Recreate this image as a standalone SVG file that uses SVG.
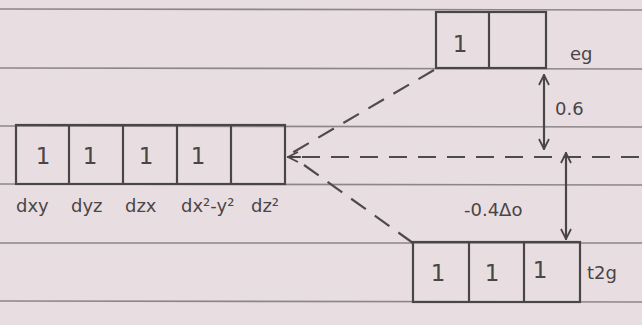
<svg xmlns="http://www.w3.org/2000/svg" width="642" height="325" viewBox="0 0 642 325">
<defs>
<style>
.ink{stroke:#4a4547;stroke-width:2.2;fill:none;stroke-linecap:round}
.box{stroke:#4a4547;stroke-width:2.2;fill:none}
.rule{stroke:#8d8689;stroke-width:1.6}
.dash{stroke:#4f4a4c;stroke-width:2.2;fill:none;stroke-dasharray:18 11}
.spin{font-family:"DejaVu Sans",sans-serif;font-size:23px;fill:#4a4547;text-anchor:middle}
.lbl{font-family:"DejaVu Sans",sans-serif;font-size:18px;fill:#4a4547}
</style>
<marker id="ah" viewBox="0 0 12 12" refX="11" refY="6" markerWidth="12" markerHeight="12" markerUnits="userSpaceOnUse" orient="auto-start-reverse">
<path d="M1 1 L11 6 L1 11" fill="none" stroke="#4a4547" stroke-width="1.8"/>
</marker>
</defs>
<rect width="642" height="325" fill="#e8dee1"/>
<g id="paper">
<line class="rule" x1="0" y1="9" x2="642" y2="10"/>
<line class="rule" x1="0" y1="68" x2="642" y2="69"/>
<line class="rule" x1="0" y1="126" x2="642" y2="127"/>
<line class="rule" x1="0" y1="184" x2="642" y2="185"/>
<line class="rule" x1="0" y1="243" x2="642" y2="243"/>
<line class="rule" x1="0" y1="301" x2="642" y2="302"/>
</g>
<g id="connectors">
<line class="dash" x1="434" y1="70" x2="292" y2="153"/>
<line class="dash" x1="302" y1="157" x2="640" y2="157"/>
<line x1="288" y1="157" x2="300" y2="157" class="ink" marker-start="url(#ah)"/>
<line class="dash" x1="304" y1="165" x2="413" y2="243"/>
<line class="ink" x1="544" y1="75" x2="544" y2="149" marker-start="url(#ah)" marker-end="url(#ah)"/>
<line class="ink" x1="566" y1="153" x2="566" y2="239" marker-start="url(#ah)" marker-end="url(#ah)"/>
</g>
<g id="d-orbitals">
<rect class="box" x="16" y="125" width="269" height="59"/>
<line class="box" x1="69" y1="125" x2="69" y2="184"/>
<line class="box" x1="123" y1="125" x2="123" y2="184"/>
<line class="box" x1="177" y1="125" x2="177" y2="184"/>
<line class="box" x1="231" y1="125" x2="231" y2="184"/>
<text class="spin" x="43" y="164">1</text>
<text class="spin" x="90" y="164">1</text>
<text class="spin" x="146" y="164">1</text>
<text class="spin" x="198" y="164">1</text>
<text class="lbl" x="16" y="212">dxy</text>
<text class="lbl" x="71" y="212">dyz</text>
<text class="lbl" x="125" y="212">dzx</text>
<text class="lbl" x="181" y="212">dx²-y²</text>
<text class="lbl" x="251" y="212">dz²</text>
</g>
<g id="eg">
<rect class="box" x="436" y="12" width="110" height="56"/>
<line class="box" x1="489" y1="12" x2="489" y2="68"/>
<text class="spin" x="460" y="52">1</text>
<text class="lbl" x="570" y="60" font-size="22">eg</text>
</g>
<g id="t2g">
<rect class="box" x="413" y="242" width="167" height="60"/>
<line class="box" x1="469" y1="242" x2="469" y2="302"/>
<line class="box" x1="524" y1="242" x2="524" y2="302"/>
<text class="spin" x="438" y="281">1</text>
<text class="spin" x="492" y="281">1</text>
<text class="spin" x="540" y="278">1</text>
<text class="lbl" x="587" y="279" font-size="22">t2g</text>
</g>
<g id="labels">
<text class="lbl" x="555" y="115">0.6</text>
<text class="lbl" x="464" y="216">-0.4Δo</text>
</g>
</svg>
